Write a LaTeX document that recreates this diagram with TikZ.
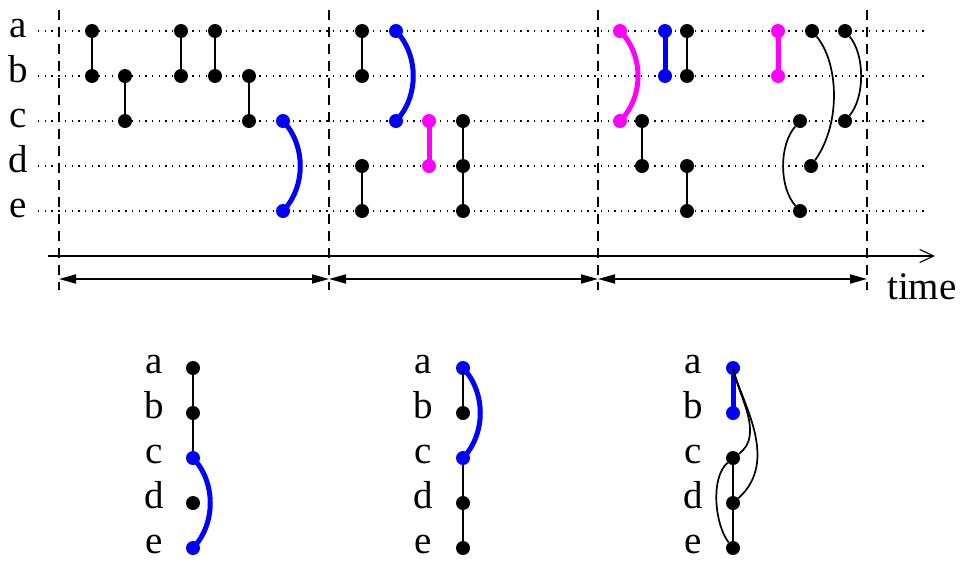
\documentclass[tikz,border=0pt]{standalone}
\usepackage{fontspec}
\setmainfont{Liberation Serif}
\usetikzlibrary{arrows.meta}
\definecolor{myblue}{RGB}{0,0,255}
\definecolor{mymag}{RGB}{255,0,255}
\tikzset{
  dotb/.style={circle,fill=black,inner sep=0pt,minimum size=14pt},
  dotblue/.style={dotb,fill=myblue},
  dotmag/.style={dotb,fill=mymag},
  lbl/.style={font=\fontsize{39}{39}\selectfont,anchor=base,inner sep=0pt},
  rowline/.style={dotted,line width=1.2pt,dash pattern=on 1.4pt off 5.3pt},
  sep/.style={line width=1.8pt,dash pattern=on 10pt off 7pt},
  blk/.style={line width=2pt},
  blkc/.style={line width=1.7pt},
  thickblue/.style={line width=5pt,myblue},
  thickmag/.style={line width=5pt,mymag},
  span/.style={line width=1.8pt,{Triangle[length=17pt,width=9pt]}-{Triangle[length=17pt,width=9pt]}},
}
\begin{document}
\begin{tikzpicture}[x=1pt,y=-1pt]
\useasboundingbox (0,0) rectangle (964,560);
% row labels
\foreach \r/\y in {a/31,b/76,c/121,d/166,e/211}{
  \node[lbl] (l\r) at (18,\y+6) {\r};
  \coordinate (rs\r) at (38,\y);
  \coordinate (re\r) at (925,\y);
  \draw[rowline] (rs\r) -- (re\r);
}
% separators
\foreach \i/\x in {1/59,2/329,3/598,4/867}{
  \coordinate (st\i) at (\x,10);
  \coordinate (sb\i) at (\x,290);
  \draw[sep] (st\i) -- (sb\i);
  \coordinate (sp\i) at (\x,279);
}
% time axis
\coordinate (ts) at (48,256);
\coordinate (te) at (935,256);
\draw[line width=1.2pt,-{Straight Barb[length=14pt,width=13pt,line width=1.1pt]}] (ts) -- (te);
\draw[span] (sp1) -- (sp2);
\draw[span] (sp2) -- (sp3);
\draw[span] (sp3) -- (sp4);
\node[lbl,anchor=base west] (time) at (887,299) {time};

% ---------- section 1
\node[dotb] (A1) at (92,31) {};  \node[dotb] (B1) at (92,76) {};
\node[dotb] (B2) at (125,76) {}; \node[dotb] (C2) at (125,121) {};
\node[dotb] (A3) at (181,31) {}; \node[dotb] (B3) at (181,76) {};
\node[dotb] (A4) at (215,31) {}; \node[dotb] (B4) at (215,76) {};
\node[dotb] (B5) at (249,76) {}; \node[dotb] (C5) at (249,121) {};
\node[dotblue] (C6) at (283,121) {}; \node[dotblue] (E6) at (283,211) {};
\draw[blk] (A1) -- (B1);
\draw[blk] (B2) -- (C2);
\draw[blk] (A3) -- (B3);
\draw[blk] (A4) -- (B4);
\draw[blk] (B5) -- (C5);
\draw[thickblue] (C6.center) .. controls (306,145) and (306,187) .. (E6.center);

% ---------- section 2
\node[dotb] (A7) at (362,31) {};  \node[dotb] (B7) at (362,76) {};
\node[dotb] (D7) at (362,166) {}; \node[dotb] (E7) at (362,211) {};
\node[dotblue] (A8) at (396,31) {}; \node[dotblue] (C8) at (396,121) {};
\node[dotmag] (C9) at (429,121) {}; \node[dotmag] (D9) at (429,166) {};
\node[dotb] (C10) at (463,121) {}; \node[dotb] (D10) at (463,166) {}; \node[dotb] (E10) at (463,211) {};
\draw[blk] (A7) -- (B7);
\draw[blk] (D7) -- (E7);
\draw[thickblue] (A8.center) .. controls (419,55) and (419,97) .. (C8.center);
\draw[thickmag] (C9.center) -- (D9.center);
\draw[blk] (C10) -- (D10);
\draw[blk] (D10) -- (E10);

% ---------- section 3
\node[dotmag] (A11) at (620,31) {}; \node[dotmag] (C11) at (620,121) {};
\node[dotb] (C12) at (642,121) {}; \node[dotb] (D12) at (642,166) {};
\node[dotblue] (A13) at (665,31) {}; \node[dotblue] (B13) at (665,76) {};
\node[dotb] (A14) at (687,31) {}; \node[dotb] (B14) at (687,76) {};
\node[dotb] (D15) at (687,166) {}; \node[dotb] (E15) at (687,211) {};
\node[dotmag] (A16) at (778,31) {}; \node[dotmag] (B16) at (778,76) {};
\node[dotb] (C17) at (800,121) {}; \node[dotb] (E17) at (800,211) {};
\node[dotb] (A18) at (812,31) {}; \node[dotb] (D18) at (811,166) {};
\node[dotb] (A19) at (845,31) {}; \node[dotb] (C19) at (845,121) {};
\draw[thickmag] (A11.center) .. controls (644,55) and (644,97) .. (C11.center);
\draw[blk] (C12) -- (D12);
\draw[thickblue] (A13.center) -- (B13.center);
\draw[blk] (A14) -- (B14);
\draw[blk] (D15) -- (E15);
\draw[thickmag] (A16.center) -- (B16.center);
\draw[blkc] (C17) .. controls (779,145) and (779,187) .. (E17);
\draw[blkc] (A18) .. controls (838,62) and (842,122) .. (D18);
\draw[blkc] (A19) .. controls (865,55) and (865,97) .. (C19);

% ---------- bottom labels
\foreach \r/\y in {a/368,b/413,c/458,d/503,e/548}{
  \node[lbl] (m\r) at (154,\y+5) {\r};
  \node[lbl] (n\r) at (423,\y+5) {\r};
  \node[lbl] (o\r) at (693,\y+5) {\r};
}
% ---------- bottom 1
\node[dotb] (PA) at (193,368) {}; \node[dotb] (PB) at (193,413) {};
\node[dotblue] (PC) at (193,458) {}; \node[dotb] (PD) at (193,503) {};
\node[dotblue] (PE) at (193,548) {};
\draw[blkc] (PA) -- (PB);
\draw[blkc] (PB) -- (PC);
\draw[thickblue] (PC.center) .. controls (216,482) and (216,524) .. (PE.center);

% ---------- bottom 2
\node[dotblue] (QA) at (463,368) {}; \node[dotb] (QB) at (463,413) {};
\node[dotblue] (QC) at (463,458) {}; \node[dotb] (QD) at (463,503) {};
\node[dotb] (QE) at (463,548) {};
\draw[blkc] (QA.center) -- (QB);
\draw[blkc] (QC) -- (QD);
\draw[blkc] (QD) -- (QE);
\draw[thickblue] (QA.center) .. controls (486,392) and (486,434) .. (QC.center);

% ---------- bottom 3
\node[dotblue] (RA) at (733,368) {}; \node[dotblue] (RB) at (733,413) {};
\node[dotb] (RC) at (733,458) {}; \node[dotb] (RD) at (733,503) {};
\node[dotb] (RE) at (733,548) {};
\draw[thickblue] (RA.center) -- (RB.center);
\draw[blkc] (RC) -- (RD);
\draw[blkc] (RD) -- (RE);
\draw[blkc] (RA.center) .. controls (738,395) and (765,435) .. (RC);
\draw[blkc] (RA.center) .. controls (740,400) and (781,460) .. (RD);
\draw[blkc] (RC) .. controls (710,478) and (715,525) .. (RE);
\end{tikzpicture}
\end{document}
